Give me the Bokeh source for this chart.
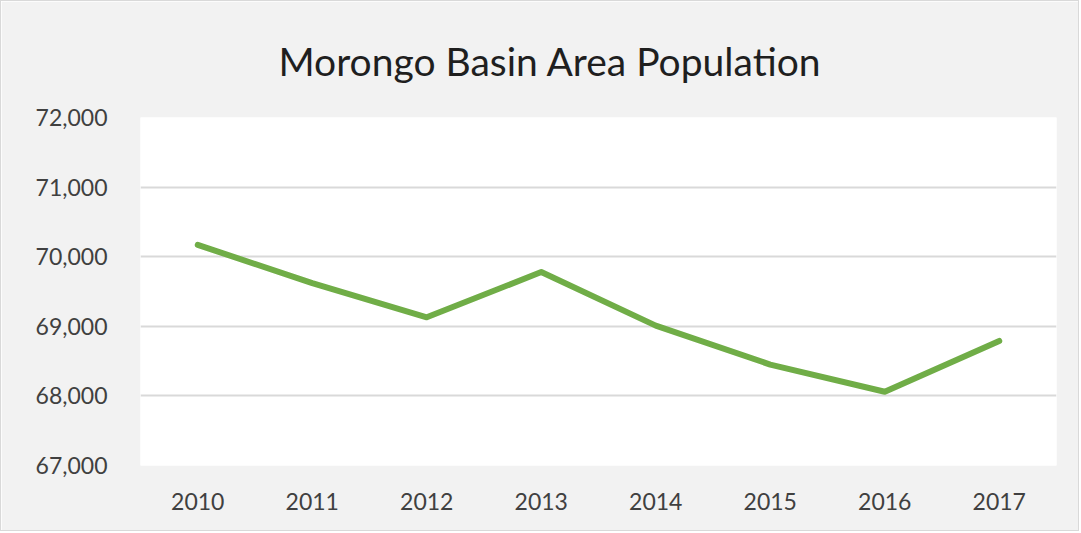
from bokeh.plotting import figure
from bokeh.models import FactorRange, Range1d, NumeralTickFormatter, FixedTicker
from bokeh.embed import file_html
from bokeh.resources import INLINE

years = ["2010", "2011", "2012", "2013", "2014", "2015", "2016", "2017"]
population = [70170, 69620, 69130, 69780, 69010, 68450, 68060, 68790]
y_ticks = [67000, 68000, 69000, 70000, 71000, 72000]

p = figure(
    width=1079, height=531,
    x_range=FactorRange(*years),
    y_range=Range1d(67000, 72000),
    output_backend="svg", toolbar_location=None,
    title="Morongo Basin Area Population",
)
p.min_border_left = 139
p.min_border_right = 24
p.min_border_top = 116
p.min_border_bottom = 67

p.background_fill_color = "white"
p.border_fill_color = "#f2f2f2"
p.outline_line_color = None
p.styles = {"border": "1px solid #d9d9d9"}

p.title.align = "left"
p.title.offset = 138
p.title.text_font = "Lato"
p.title.text_font_size = "39px"
p.title.text_font_style = "normal"
p.title.text_color = "#1f1f1f"
p.title.standoff = 68

p.line(x=years, y=population, line_color="#70ad47", line_width=6, line_join="round", line_cap="round")

p.yaxis.ticker = FixedTicker(ticks=y_ticks)
p.yaxis.formatter = NumeralTickFormatter(format="0,0")
for ax in (p.xaxis[0], p.yaxis[0]):
    ax.axis_line_color = None
    ax.major_tick_line_color = None
    ax.minor_tick_line_color = None
    ax.major_label_text_font = "Lato"
    ax.major_label_text_font_size = "23px"
    ax.major_label_text_color = "#404040"
p.yaxis.major_label_standoff = 27
p.xaxis.major_label_standoff = 21

p.xgrid.grid_line_color = None
p.ygrid.grid_line_color = "#d9d9d9"
p.ygrid.grid_line_width = 2

open("out.html", "w").write(file_html(p, INLINE))
